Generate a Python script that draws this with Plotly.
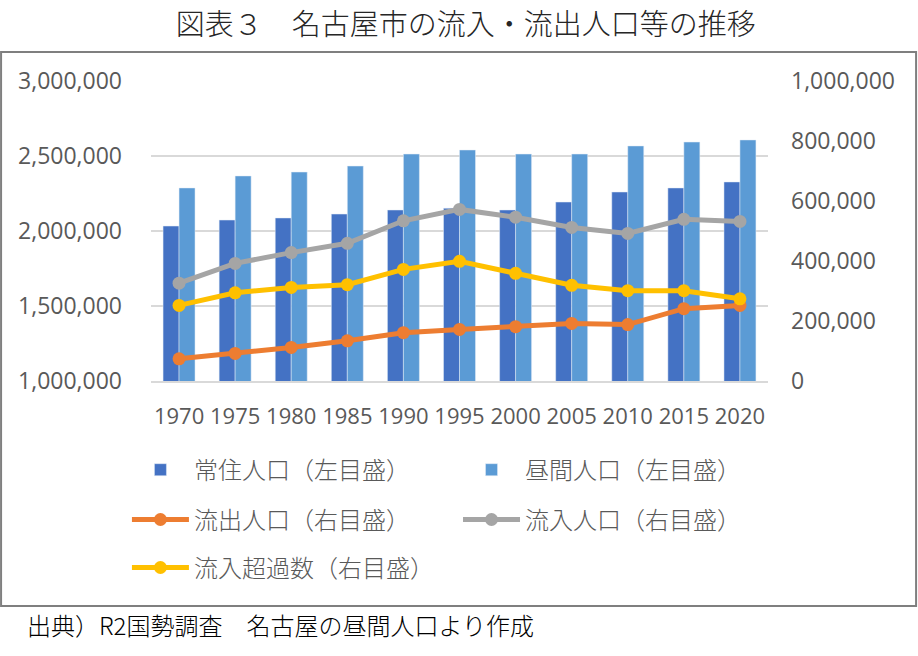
import plotly.graph_objects as go

# 名古屋市 常住・昼間人口 (左目盛) と 流出・流入・流入超過 (右目盛)
years = ['1970', '1975', '1980', '1985', '1990', '1995',
         '2000', '2005', '2010', '2015', '2020']
resident = [2033000, 2073000, 2087000, 2113000, 2140000, 2152000,
            2140000, 2193000, 2260000, 2287000, 2327000]
daytime = [2287000, 2367000, 2393000, 2433000, 2513000, 2540000,
           2513000, 2513000, 2567000, 2593000, 2607000]
outflow = [74000, 92000, 112000, 134000, 161000, 172000,
           181000, 192000, 188000, 241000, 252000]
inflow = [326000, 392000, 428000, 459000, 534000, 572000,
          546000, 512000, 492000, 539000, 532000]
excess = [252000, 294000, 312000, 321000, 372000, 399000,
          359000, 319000, 301000, 301000, 274000]

JP = 'Noto Sans CJK JP'
NUM = 'Open Sans'

fig = go.Figure()
fig.add_trace(go.Bar(x=years, y=resident, name='常住人口（左目盛）',
                     marker_color='#4472C4', legend='legend'))
fig.add_trace(go.Bar(x=years, y=daytime, name='昼間人口（左目盛）',
                     marker_color='#5B9BD5', legend='legend2'))

line_series = [
    (outflow, '流出人口（右目盛）', '#ED7D31', 'legend3'),
    (inflow, '流入人口（右目盛）', '#A5A5A5', 'legend4'),
    (excess, '流入超過数（右目盛）', '#FFC000', 'legend5'),
]
for vals, name, col, lg in line_series:
    fig.add_trace(go.Scatter(
        x=years, y=vals, name=name, yaxis='y2', mode='lines+markers',
        line=dict(color=col, width=5), marker=dict(color=col, size=13),
        legend=lg,
    ))

leg_common = dict(
    font=dict(family=JP, size=24, color='#595959', weight=300),
    bgcolor='rgba(0,0,0,0)', xanchor='left', yanchor='middle',
    itemclick=False, itemwidth=57,
)
# 凡例の位置 (2列×3行)
leg_x = [-0.039, 0.4976, -0.039, 0.4976, -0.039]
leg_y = [-0.297, -0.297, -0.463, -0.463, -0.623]

fig.update_layout(
    width=918, height=656, autosize=False,
    margin=dict(l=151, r=150, t=81, b=275),
    paper_bgcolor='white', plot_bgcolor='white',
    barmode='group', bargap=0.43, bargroupgap=0,
    title=dict(text='図表３　名古屋市の流入・流出人口等の推移',
               font=dict(family=JP, size=29, color='#262626', weight=300),
               x=0.51, xref='paper', xanchor='center',
               y=1 - 25 / 656, yref='container', yanchor='middle'),
    xaxis=dict(type='category', tickangle=0, range=[-0.5, len(years) - 0.5],
               tickfont=dict(family=NUM, size=22, color='#595959'),
               showline=True, linecolor='#D9D9D9', linewidth=1.5,
               ticklabelstandoff=15),
    yaxis=dict(range=[1000000, 3000000], dtick=500000, tickformat=',',
               gridcolor='#D9D9D9', gridwidth=1.5, zeroline=False,
               tickfont=dict(family=NUM, size=23, color='#595959'),
               ticklabelstandoff=28),
    yaxis2=dict(range=[0, 1000000], dtick=200000, tickformat=',',
                overlaying='y', side='right', showgrid=False, zeroline=False,
                tickfont=dict(family=NUM, size=23, color='#595959'),
                ticklabelstandoff=22),
    showlegend=True,
)
for i, (lx, ly) in enumerate(zip(leg_x, leg_y)):
    key = 'legend' if i == 0 else f'legend{i + 1}'
    fig.update_layout({key: dict(leg_common, x=lx, y=ly)})

# 外枠
fig.add_shape(type='rect', xref='paper', yref='paper',
              x0=-0.243, x1=1.24, y0=-0.75, y1=1.097,
              line=dict(color='#7F7F7F', width=2), layer='below')

fig.add_annotation(text='出典）R2国勢調査　名古屋の昼間人口より作成',
                   xref='paper', yref='paper', x=-0.205, y=-0.813,
                   xanchor='left', yanchor='middle', showarrow=False,
                   font=dict(family=JP, size=24, color='#000000', weight=300))

# ページ余白をなくす
fig.write_html('out.html', config={'displayModeBar': False},
               post_script="document.body.style.margin='0px';")
